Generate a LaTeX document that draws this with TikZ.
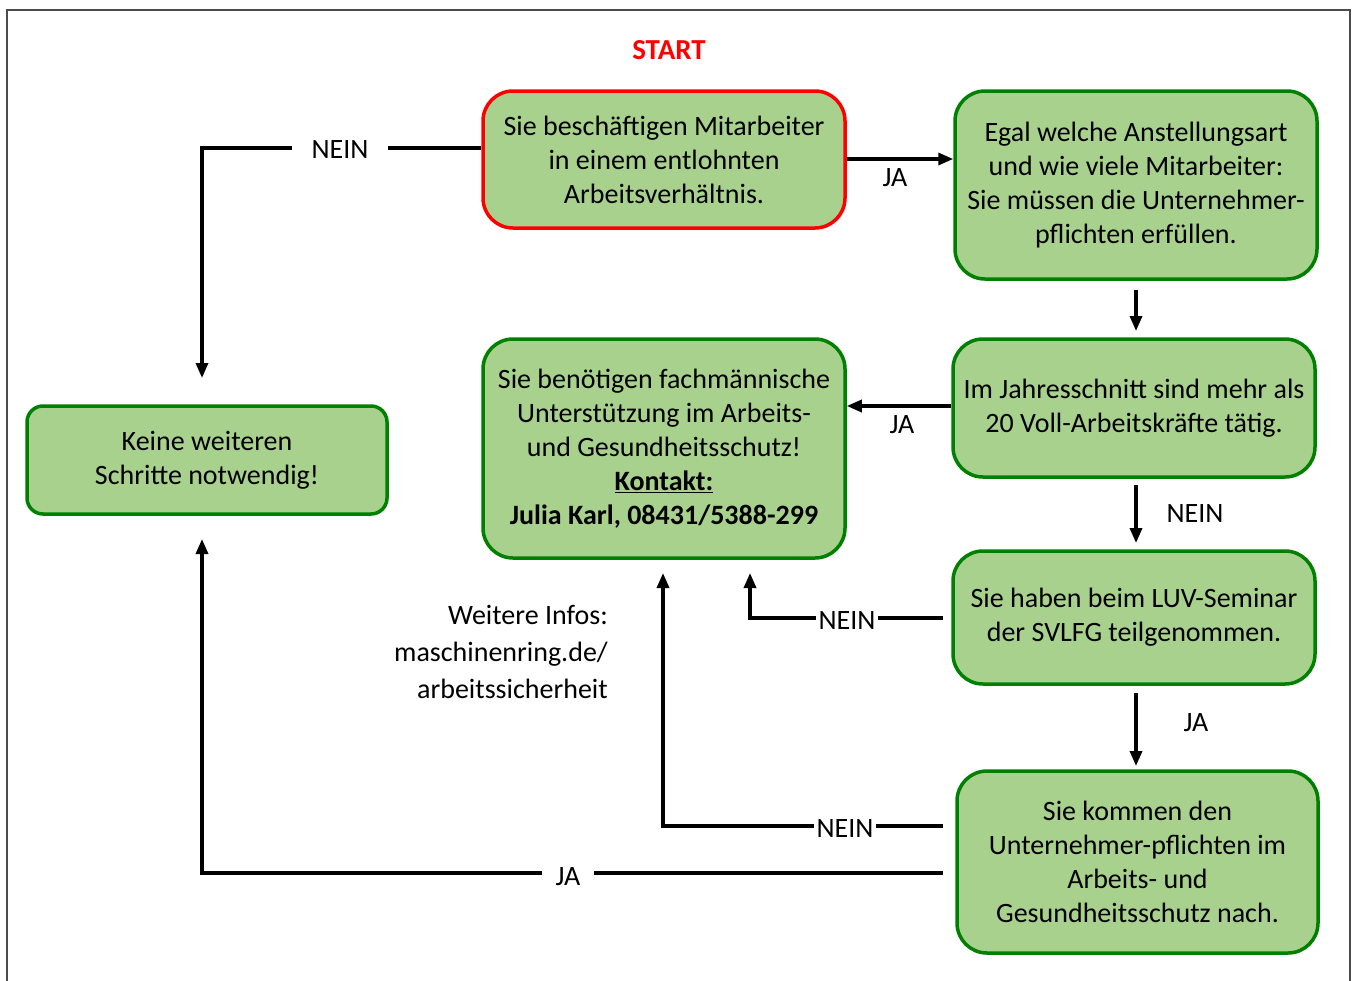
\documentclass[tikz,border=0pt]{standalone}
\usepackage{fontspec}
\setmainfont{Carlito}
\usetikzlibrary{arrows.meta}
\definecolor{boxfill}{RGB}{169,209,142}
\definecolor{boxgreen}{RGB}{0,128,0}
\definecolor{startred}{RGB}{255,0,0}
\begin{document}
\begin{tikzpicture}[x=1pt,y=-1pt,
  box/.style={draw=boxgreen,fill=boxfill,line width=3.5pt,rounded corners=30pt,align=center,
    font=\fontsize{28}{34}\selectfont,inner sep=0pt},
  startbox/.style={box,draw=startred},
  conn/.style={line width=3.3pt,-{Triangle[length=15pt,width=12pt]}},
  lbl/.style={font=\fontsize{28}{30}\selectfont,inner sep=1pt},
  lblw/.style={lbl,fill=white,inner xsep=3pt}]
\useasboundingbox (0,0) rectangle (1354,980);
\fill[white] (0,0) rectangle (1354,980);
\draw[line width=1.5pt,black!70] (7,10) rectangle (1350,1010);

\node[font=\fontsize{29}{30}\selectfont\bfseries,text=startred] (start) at (669,50) {START};

\node[startbox,minimum width=362pt,minimum height=137pt] (b1) at (664,159.5)
  {Sie beschäftigen Mitarbeiter\\in einem entlohnten\\Arbeitsverhältnis.};
\node[box,minimum width=362pt,minimum height=188pt] (b2) at (1136,185)
  {Egal welche Anstellungsart\\und wie viele Mitarbeiter:\\Sie müssen die Unternehmer-\\pflichten erfüllen.};
\node[box,minimum width=362pt,minimum height=138pt] (b3) at (1134,408)
  {Im Jahresschnitt sind mehr als\\20 Voll-Arbeitskräfte tätig.};
\node[box,minimum width=362pt,minimum height=133pt] (b4) at (1134,617.5)
  {Sie haben beim LUV-Seminar\\der SVLFG teilgenommen.};
\node[box,minimum width=361pt,minimum height=182pt] (b5) at (1137.5,862)
  {Sie kommen den\\Unternehmer-pflichten im\\Arbeits- und\\Gesundheitsschutz nach.};
\node[box,minimum width=362pt,minimum height=219pt] (b6) at (664,448.5)
  {Sie benötigen fachmännische\\Unterstützung im Arbeits-\\und Gesundheitsschutz!\\\underline{\textbf{Kontakt:}}\\\textbf{Julia Karl, 08431/5388-299}};
\node[box,rounded corners=16pt,minimum width=360pt,minimum height=108pt] (b7) at (207,460)
  {Keine weiteren\\Schritte notwendig!};

\node[font=\fontsize{28}{37}\selectfont,align=right,anchor=east,inner sep=0pt] (info) at (608,652)
  {Weitere Infos:\\maschinenring.de/\\arbeitssicherheit};

% named free ends
\coordinate (c1) at (202,148);
\coordinate (k1) at (202,378);
\coordinate (b2s) at (1136,290);
\coordinate (b3n) at (1136,331);
\coordinate (b3s) at (1136,485);
\coordinate (b4n) at (1136,543);
\coordinate (b4w) at (943,618);
\coordinate (c4) at (750,618);
\coordinate (a4) at (750,573);
\coordinate (b4s) at (1136,693);
\coordinate (b5n) at (1136,766);
\coordinate (b5w1) at (943,826);
\coordinate (c5) at (663,826);
\coordinate (a5) at (663,573);
\coordinate (b5w2) at (943,873);
\coordinate (c6) at (202,873);
\coordinate (k2) at (202,539);

% connectors
\draw[conn] ([yshift=11.5pt]b1.west) -- (c1) -- (k1);
\node[lblw,inner xsep=20pt] (l1) at (340,150) {NEIN};
\draw[conn] ([yshift=0.5pt]b1.east) -- ([yshift=0.5pt]b1.east -| b2.west);
\node[lbl] (l2) at (895,178) {JA};
\draw[conn] (b2s) -- (b3n);
\draw[conn] ([yshift=2pt]b3.west) -- ([yshift=2pt]b3.west -| b6.east);
\node[lbl] (l3) at (902,425) {JA};
\draw[conn] (b3s) -- (b4n);
\node[lbl] (l4) at (1195,514) {NEIN};
\draw[conn] (b4w) -- (c4) -- (a4);
\node[lblw] (l5) at (847,621) {NEIN};
\draw[conn] (b4s) -- (b5n);
\node[lbl] (l6) at (1196,723) {JA};
\draw[conn] (b5w1) -- (c5) -- (a5);
\node[lblw] (l7) at (845,829) {NEIN};
\draw[conn] (b5w2) -- (c6) -- (k2);
\node[lblw,inner xsep=14pt] (l8) at (568,877) {JA};
\end{tikzpicture}
\end{document}
